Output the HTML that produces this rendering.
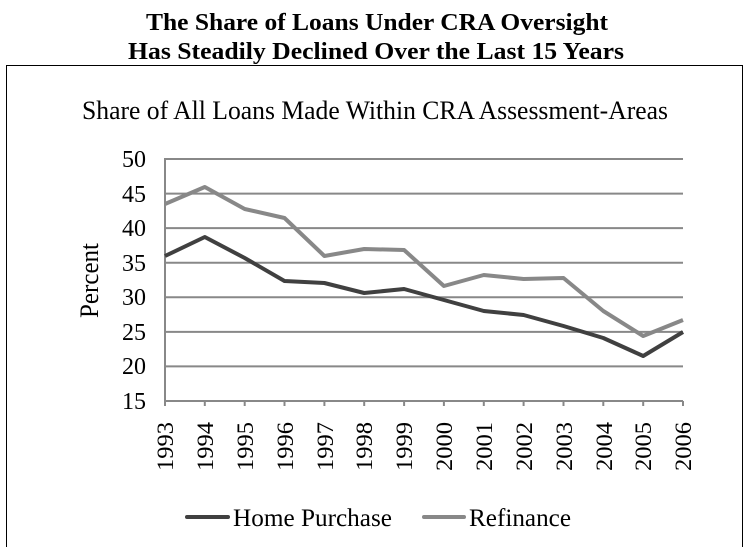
<!DOCTYPE html>
<html><head><style>body{margin:0;background:#fff}svg{display:block}</style></head><body>
<svg width="748" height="547" viewBox="0 0 748 547" xmlns="http://www.w3.org/2000/svg" font-family="Liberation Serif, serif">
<text x="146" y="30" font-size="24" font-weight="bold" textLength="462" lengthAdjust="spacingAndGlyphs">The Share of Loans Under CRA Oversight</text>
<text x="128" y="59" font-size="24" font-weight="bold" textLength="496" lengthAdjust="spacingAndGlyphs">Has Steadily Declined Over the Last 15 Years</text>
<path d="M6.5 547V65.5H742.5V547" fill="none" stroke="#000" stroke-width="1"/>
<text x="82" y="119" font-size="26" textLength="586" lengthAdjust="spacingAndGlyphs">Share of All Loans Made Within CRA Assessment-Areas</text>
<g stroke="#888" stroke-width="2" fill="none">
<path d="M165 159H683M165 193.6H683M165 228.1H683M165 262.7H683M165 297.3H683M165 331.9H683M165 366.4H683"/>
<path d="M165 158V401H683"/>
<path d="M165 401v5M204.8 401v5M244.7 401v5M284.5 401v5M324.4 401v5M364.2 401v5M404.1 401v5M443.9 401v5M483.8 401v5M523.6 401v5M563.5 401v5M603.3 401v5M643.2 401v5M683 401v5"/>
</g>
<g font-size="24" text-anchor="end">
<text x="146" y="167">50</text><text x="146" y="202">45</text><text x="146" y="236">40</text><text x="146" y="271">35</text><text x="146" y="305">30</text><text x="146" y="340">25</text><text x="146" y="374">20</text><text x="146" y="409">15</text>
</g>
<text transform="translate(98 318) rotate(-90)" font-size="26" textLength="75" lengthAdjust="spacingAndGlyphs">Percent</text>
<g font-size="23">
<text transform="translate(173 471) rotate(-90)" textLength="49" lengthAdjust="spacingAndGlyphs">1993</text>
<text transform="translate(213 471) rotate(-90)" textLength="49" lengthAdjust="spacingAndGlyphs">1994</text>
<text transform="translate(253 471) rotate(-90)" textLength="49" lengthAdjust="spacingAndGlyphs">1995</text>
<text transform="translate(293 471) rotate(-90)" textLength="49" lengthAdjust="spacingAndGlyphs">1996</text>
<text transform="translate(333 471) rotate(-90)" textLength="49" lengthAdjust="spacingAndGlyphs">1997</text>
<text transform="translate(372 471) rotate(-90)" textLength="49" lengthAdjust="spacingAndGlyphs">1998</text>
<text transform="translate(412 471) rotate(-90)" textLength="49" lengthAdjust="spacingAndGlyphs">1999</text>
<text transform="translate(452 471) rotate(-90)" textLength="49" lengthAdjust="spacingAndGlyphs">2000</text>
<text transform="translate(492 471) rotate(-90)" textLength="49" lengthAdjust="spacingAndGlyphs">2001</text>
<text transform="translate(532 471) rotate(-90)" textLength="49" lengthAdjust="spacingAndGlyphs">2002</text>
<text transform="translate(572 471) rotate(-90)" textLength="49" lengthAdjust="spacingAndGlyphs">2003</text>
<text transform="translate(612 471) rotate(-90)" textLength="49" lengthAdjust="spacingAndGlyphs">2004</text>
<text transform="translate(651 471) rotate(-90)" textLength="49" lengthAdjust="spacingAndGlyphs">2005</text>
<text transform="translate(691 471) rotate(-90)" textLength="49" lengthAdjust="spacingAndGlyphs">2006</text>
</g>
<polyline fill="none" stroke="#888" stroke-width="4" stroke-linejoin="round" points="165,204 204.8,187 244.7,209 284.5,218 324.4,256 364.2,249 404.1,250 443.9,286 483.8,275 523.6,279 563.5,278 603.3,311 643.2,336 683,320"/>
<polyline fill="none" stroke="#404040" stroke-width="4" stroke-linejoin="round" points="165,256 204.8,237 244.7,258 284.5,281 324.4,283 364.2,293 404.1,289 443.9,300 483.8,311 523.6,315 563.5,326 603.3,338 643.2,356 683,332"/>
<line x1="187" y1="517" x2="228" y2="517" stroke="#404040" stroke-width="4" stroke-linecap="round"/>
<text x="233" y="526" font-size="25" textLength="159" lengthAdjust="spacingAndGlyphs">Home Purchase</text>
<line x1="424" y1="517" x2="464" y2="517" stroke="#888" stroke-width="4" stroke-linecap="round"/>
<text x="469" y="526" font-size="25" textLength="102" lengthAdjust="spacingAndGlyphs">Refinance</text>
</svg>
</body></html>
